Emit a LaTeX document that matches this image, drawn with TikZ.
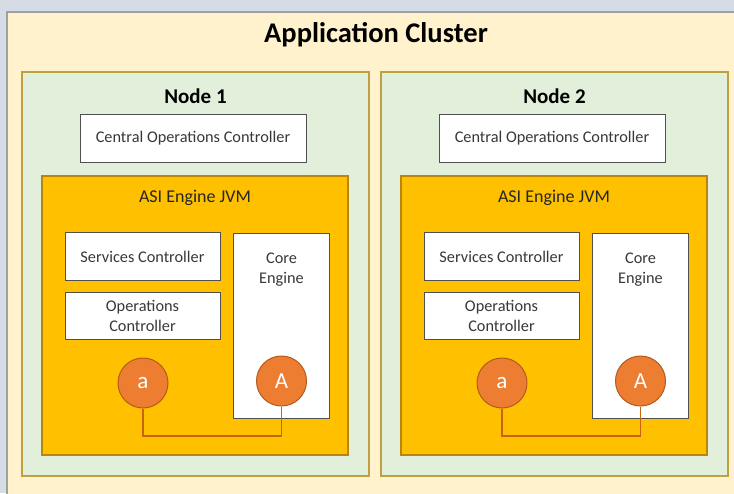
\documentclass[tikz,border=0pt]{standalone}
\usepackage{fontspec}
\setmainfont{Carlito}
\definecolor{bgout}{HTML}{D6DCE5}
\definecolor{cream}{HTML}{FFF2CC}
\definecolor{greyb}{HTML}{A0A0A0}
\definecolor{greenf}{HTML}{E2EFDA}
\definecolor{goldb}{HTML}{BF9F3F}
\definecolor{jvm}{HTML}{FFC000}
\definecolor{jvmb}{HTML}{B8860B}
\definecolor{boxb}{HTML}{505050}
\definecolor{circf}{HTML}{ED7D31}
\definecolor{circb}{HTML}{B35A1F}
\definecolor{wire}{HTML}{C8640F}
\begin{document}
\begin{tikzpicture}[x=1pt,y=-1pt,
  cluster/.style={draw=greyb,fill=cream,line width=1.2pt},
  nodebox/.style={draw=goldb,fill=greenf,line width=1.2pt},
  jvmbox/.style={draw=jvmb,fill=jvm,line width=1.2pt},
  wfont/.style={font=\fontsize{16.3}{20}\selectfont,text=black!78},
  wbox/.style={draw=boxb,fill=white,line width=1pt,align=center,wfont},
  circ/.style={circle,draw=circb,fill=circf,line width=1pt,minimum size=50pt,inner sep=0pt,text=white,font=\fontsize{23}{23}\selectfont},
  wirel/.style={draw=wire,line width=1.6pt}]
\fill[bgout] (0,0) rectangle (734,493);
\useasboundingbox (0,0) rectangle (734,493);
\draw[cluster] (7,12) rectangle (740,500);
\node[font=\bfseries\fontsize{28.5}{30}\selectfont] (title) at (376,35) {Application Cluster};
\foreach \dx/\n in {0/1,359/2}{
  \begin{scope}[xshift=\dx]
  \draw[nodebox] (22,72) rectangle (369,476);
  \node[font=\bfseries\fontsize{21}{22}\selectfont] (nodet\n) at (195.5,96) {Node \n};
  \node[wbox,minimum width=226pt,minimum height=48pt] (coc\n) at (193,138.5) {Central Operations Controller};
  \draw[jvmbox] (42,176) rectangle (348,455);
  \node[font=\fontsize{18}{20}\selectfont,text=black!85] (jvmt\n) at (195,198) {ASI Engine JVM};
  \node[wbox,minimum width=155pt,minimum height=48pt] (sc\n) at (142.5,256.5) {Services Controller};
  \node[wbox,minimum width=155pt,minimum height=47pt] (oc\n) at (142.5,315.5) {Operations\\Controller};
  \node[wbox,minimum width=96pt,minimum height=185pt] (ce\n) at (281.5,325.5) {};
  \node[wfont,align=center] (cet\n) at (281.5,270) {Core\\Engine};
  \node[circ] (a\n) at (143,383) {a};
  \node[circ] (A\n) at (281.5,381) {A};
  \draw[wirel] (a\n.south) |- (212,436) -| (A\n.south);
  \end{scope}
}
\end{tikzpicture}
\end{document}
